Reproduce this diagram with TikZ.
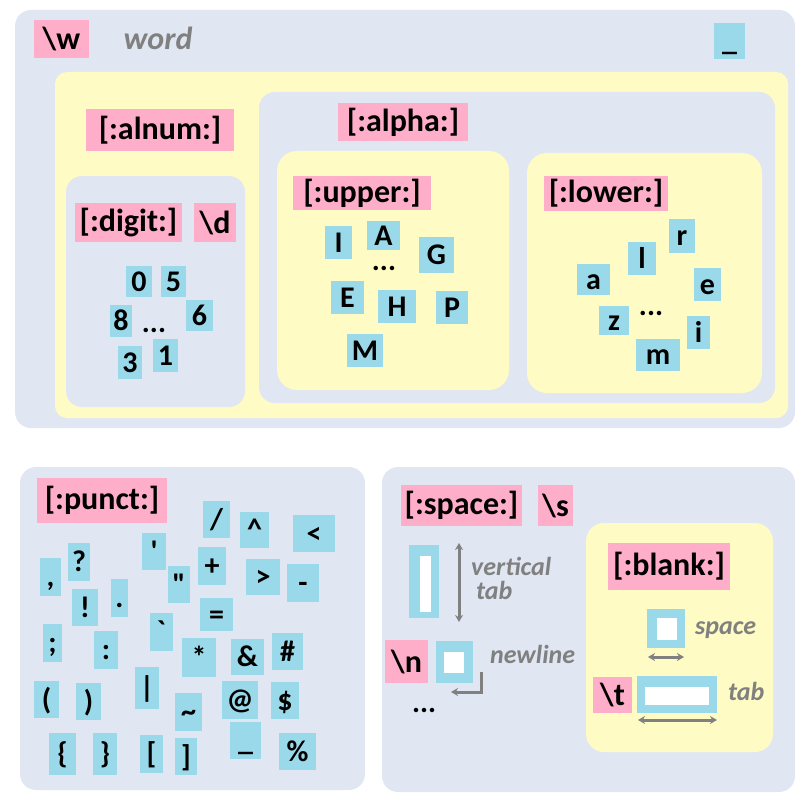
\documentclass[tikz,border=0pt]{standalone}
\usepackage{fontspec}
\setmainfont{Carlito}
\usetikzlibrary{arrows.meta}
\definecolor{panel}{RGB}{225,231,242}
\definecolor{yel}{RGB}{255,251,196}
\definecolor{pinkc}{RGB}{255,174,201}
\definecolor{chipblue}{RGB}{153,217,234}
\definecolor{notec}{RGB}{128,128,128}
\newcommand\chip[6]{\node[chipst, minimum width={#4-#2}, minimum height={#5-#3}] (#1) at ({(#2+#4)/2},{(#3+#5)/2}) {#6};}
\newcommand\lab[6]{\node[labst, minimum width={#4-#2}, minimum height={#5-#3}] (#1) at ({(#2+#4)/2},{(#3+#5)/2}) {#6};}
\newcommand\bx[6]{\node[#6, inner sep=0, minimum width={#4-#2}, minimum height={#5-#3}] (#1) at ({(#2+#4)/2},{(#3+#5)/2}) {};}
\tikzset{
  chipst/.style={fill=chipblue, inner sep=0, font=\fontsize{30}{30}\selectfont\bfseries, text height=24pt, text depth=5pt},
  labst/.style={fill=pinkc, inner sep=0, font=\fontsize{32}{32}\selectfont\bfseries},
  notest/.style={text=notec, inner sep=0, font=\fontsize{26}{26}\selectfont\bfseries\itshape},
  dotst/.style={inner sep=0, anchor=base, font=\fontsize{30}{30}\selectfont\bfseries},
  garrow/.style={draw=notec, line width=3pt},
  gtip/.tip={Stealth[length=7pt,width=8pt]},
  bluefill/.style={fill=chipblue},
  whitefill/.style={fill=white}
}
\begin{document}
\begin{tikzpicture}[x=1pt, y=-1pt]
\useasboundingbox (0,0) rectangle (810,805);
% panels
\fill[panel, rounded corners=16] (15,10) rectangle (795,428);
\fill[yel, rounded corners=12] (55,72) rectangle (788,418);
\fill[panel, rounded corners=16] (259,92) rectangle (775,403);
\fill[panel, rounded corners=16] (66,176) rectangle (245,407);
\fill[yel, rounded corners=20] (277,151) rectangle (509,390);
\fill[yel, rounded corners=20] (527,153) rectangle (762,393);
\fill[panel, rounded corners=16] (20,467) rectangle (365,790);
\fill[panel, rounded corners=16] (382,467) rectangle (795,792);
\fill[yel, rounded corners=18] (586,523) rectangle (773,752);
% word panel
\lab{w}{34}{20}{89}{58}{\textbackslash w}
\node[notest, font=\fontsize{32}{32}\selectfont\bfseries\itshape, anchor=base] (word) at (158,50) {word};
\chip{us}{714}{23}{745}{59}{\_}
\lab{alnum}{86}{109}{234}{151}{[:alnum:]}
\lab{alpha}{338}{103}{468}{141}{[:alpha:]}
% digits
\lab{digit}{75}{203}{182}{242}{[:digit:]}
\lab{dd}{194}{203}{236}{242}{\textbackslash d}
\chip{d0}{126}{266}{152}{297}{0}
\chip{d5}{161}{266}{186}{297}{5}
\chip{d8}{110}{305}{132}{337}{8}
\chip{d6}{186}{300}{213}{331}{6}
\chip{d3}{118}{346}{142}{379}{3}
\chip{d1}{153}{339}{178}{372}{1}
\node[dotst] (ddots) at (154,332) {...};
% upper
\lab{upper}{293}{176}{431}{210}{[:upper:]}
\chip{uI}{325}{226}{352}{259}{I}
\chip{uA}{367}{221}{400}{250}{A}
\chip{uG}{419}{237}{454}{273}{G}
\chip{uE}{331}{281}{364}{314}{E}
\chip{uH}{378}{290}{416}{323}{H}
\chip{uP}{436}{291}{468}{324}{P}
\chip{uM}{347}{334}{383}{367}{M}
\node[dotst] (udots) at (384,270) {...};
% lower
\lab{lower}{544}{176}{668}{211}{[:lower:]}
\chip{lr}{669}{219}{695}{253}{r}
\chip{ll}{628}{242}{656}{275}{l}
\chip{la}{577}{264}{610}{295}{a}
\chip{le}{694}{268}{721}{301}{e}
\chip{lz}{599}{306}{629}{335}{z}
\chip{li}{687}{316}{710}{349}{i}
\chip{lm}{636}{339}{680}{371}{m}
\node[dotst] (ldots) at (651,315) {...};
% punct
\lab{punct}{37}{478}{167}{523}{[:punct:]}
\chip{pcomma}{40}{558}{61}{596}{,}
\chip{pq}{68}{543}{90}{581}{?}
\chip{papos}{142}{533}{166}{570}{\textquotesingle}
\chip{pquot}{168}{566}{190}{603}{\textquotedbl}
\chip{pexcl}{72}{589}{98}{626}{!}
\chip{pdot}{111}{579}{128}{617}{.}
\chip{pgrave}{150}{613}{173}{651}{\textasciigrave}
\chip{psemi}{43}{624}{62}{662}{;}
\chip{pcolon}{94}{631}{118}{669}{:}
\chip{pbar}{135}{667}{159}{709}{|}
\chip{plp}{34}{681}{59}{718}{(}
\chip{prp}{76}{683}{101}{720}{)}
\chip{ptilde}{175}{693}{202}{731}{\textasciitilde}
\chip{plb}{49}{733}{76}{775}{\{}
\chip{prb}{93}{733}{117}{775}{\}}
\chip{plsq}{140}{735}{163}{773}{[}
\chip{prsq}{175}{738}{197}{775}{]}
\chip{pstar}{182}{638}{216}{677}{*}
\chip{pslash}{203}{501}{230}{538}{/}
\chip{pcaret}{240}{512}{269}{548}{\textasciicircum}
\chip{plt}{293}{515}{335}{552}{<}
\chip{pplus}{198}{547}{226}{585}{+}
\chip{pgt}{246}{559}{280}{595}{>}
\chip{pminus}{287}{564}{319}{602}{-}
\chip{peq}{200}{598}{233}{631}{=}
\chip{pamp}{231}{639}{264}{675}{\&}
\chip{phash}{272}{633}{303}{670}{\#}
\chip{pat}{222}{681}{258}{719}{@}
\chip{pdollar}{271}{682}{299}{719}{\$}
\chip{pus}{230}{722}{261}{759}{\_}
\chip{ppct}{279}{733}{316}{770}{\%}
% space
\lab{space}{401}{485}{522}{526}{[:space:]}
\lab{s}{538}{485}{573}{526}{\textbackslash s}
\bx{vt}{409}{545}{439}{618}{bluefill}
\bx{vtin}{420}{556}{431}{612}{whitefill}
\coordinate (vta) at (459,543);
\coordinate (vtb) at (459,622);
\draw[garrow, gtip-gtip] (vta) -- (vtb);
\node[notest, anchor=base west] (vtext) at (471,575) {vertical};
\node[notest, anchor=base west] (vtext2) at (476,599) {tab};
\lab{n}{385}{640}{428}{683}{\textbackslash n}
\bx{nl}{436}{641}{473}{683}{bluefill}
\bx{nlin}{444}{652}{464}{673}{whitefill}
\coordinate (nla) at (481,672);
\coordinate (nlb) at (451,692);
\draw[garrow, -gtip] (nla) |- (nlb);
\node[notest, anchor=base west] (nltext) at (490,663) {newline};
\node[dotst, anchor=base west] (sdots) at (412,712) {...};
% blank
\lab{blank}{608}{543}{730}{590}{[:blank:]}
\bx{sp}{647}{609}{685}{648}{bluefill}
\bx{spin}{657}{618}{677}{640}{whitefill}
\coordinate (spa) at (648,657);
\coordinate (spb) at (684,657);
\draw[garrow, gtip-gtip] (spa) -- (spb);
\node[notest, anchor=base west] (sptext) at (695,634) {space};
\lab{t}{593}{677}{632}{713}{\textbackslash t}
\bx{tb}{637}{676}{717}{713}{bluefill}
\bx{tbin}{645}{687}{709}{705}{whitefill}
\coordinate (tba) at (638,720);
\coordinate (tbb) at (717,720);
\draw[garrow, gtip-gtip] (tba) -- (tbb);
\node[notest, anchor=base west] (tbtext) at (728,700) {tab};
\end{tikzpicture}
\end{document}
